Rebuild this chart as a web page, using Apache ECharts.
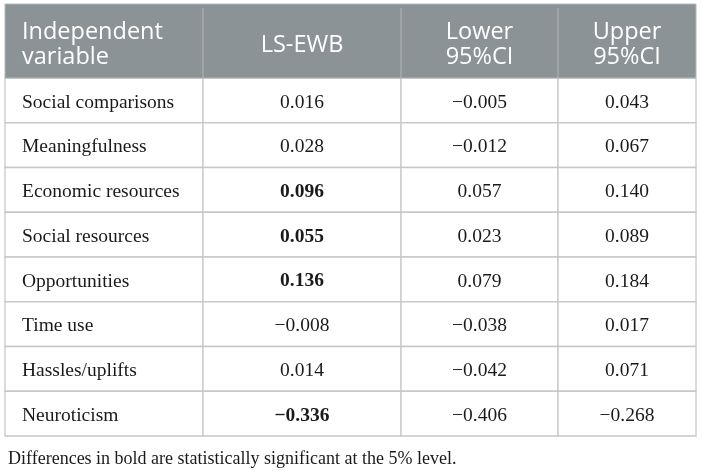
<!DOCTYPE html>
<html>
<head>
<meta charset="utf-8">
<script src="https://cdn.jsdelivr.net/npm/echarts@6/dist/echarts.min.js"></script>
<style>
  html, body { margin: 0; padding: 0; background: #fff; }
  #main { width: 702px; height: 471px; }
</style>
</head>
<body>
<div id="main"></div>
<script>
var chartDom = document.getElementById('main');
var myChart = echarts.init(chartDom);
var option;

// table content
const variables = ['Social comparisons', 'Meaningfulness', 'Economic resources', 'Social resources',
  'Opportunities', 'Time use', 'Hassles/uplifts', 'Neuroticism'];
const lsEwb = [0.016, 0.028, 0.096, 0.055, 0.136, -0.008, 0.014, -0.336];
const lower95 = [-0.005, -0.012, 0.057, 0.023, 0.079, -0.038, -0.042, -0.406];
const upper95 = [0.043, 0.067, 0.140, 0.089, 0.184, 0.017, 0.071, -0.268];
const significant = [false, false, true, true, true, false, false, true];
const headers = ['Independent\nvariable', 'LS-EWB', 'Lower\n95%CI', 'Upper\n95%CI'];
const note = 'Differences in bold are statistically significant at the 5% level.';

// column edges along the x axis (layout)
const colEdges = [0, 198, 396, 553, 691];
const headerHeight = 74;

const serif = '"Liberation Serif", "DejaVu Serif", serif';
const sans = '"Open Sans", "Noto Sans", sans-serif';

function fmt(v) {
  return (v < 0 ? '\u2212' : '') + Math.abs(v).toFixed(3);
}

function rowItem(params, api) {
  const r = api.value(0);
  const c = api.coord([0, r]);
  const band = api.size([0, 1])[1];
  const top = c[1] - band / 2;
  const vals = [variables[r], fmt(lsEwb[r]), fmt(lower95[r]), fmt(upper95[r])];
  const children = [];
  for (let j = 0; j < 4; j++) {
    const x0 = api.coord([colEdges[j], r])[0];
    const x1 = api.coord([colEdges[j + 1], r])[0];
    children.push({
      type: 'rect',
      shape: { x: x0, y: top, width: x1 - x0, height: band },
      style: { fill: '#fff', stroke: '#c8c8c8', lineWidth: 1.3 }
    });
    children.push({
      type: 'text',
      style: {
        x: j === 0 ? x0 + 17 : (x0 + x1) / 2,
        y: c[1] + 2,
        text: vals[j],
        align: j === 0 ? 'left' : 'center',
        verticalAlign: 'middle',
        fill: '#1a1a1a',
        font: (j === 1 && significant[r] ? 'bold ' : '') + '19.5px ' + serif
      }
    });
  }
  return { type: 'group', children: children };
}

function headerItem(params, api) {
  const c = api.coord([0, 0]);
  const band = api.size([0, 1])[1];
  const bottom = c[1] - band / 2;
  const top = bottom - headerHeight;
  const left = api.coord([colEdges[0], 0])[0];
  const right = api.coord([colEdges[4], 0])[0];
  const children = [{
    type: 'rect',
    shape: { x: left, y: top, width: right - left, height: headerHeight },
    style: { fill: '#8b9396', stroke: '#b3b8ba', lineWidth: 1 }
  }];
  for (let j = 0; j < 4; j++) {
    const x0 = api.coord([colEdges[j], 0])[0];
    const x1 = api.coord([colEdges[j + 1], 0])[0];
    if (j > 0) {
      children.push({
        type: 'line',
        shape: { x1: x0, y1: top + 4, x2: x0, y2: bottom },
        style: { stroke: '#a9aeb1', lineWidth: 1.3 }
      });
    }
    children.push({
      type: 'text',
      style: {
        x: j === 0 ? x0 + 17 : (x0 + x1) / 2,
        y: top + headerHeight / 2 + 4,
        text: headers[j],
        align: j === 0 ? 'left' : 'center',
        verticalAlign: 'middle',
        fill: '#fff',
        lineHeight: 25,
        font: '23.5px ' + sans
      }
    });
  }
  return { type: 'group', children: children };
}

option = {
  animation: false,
  title: {
    text: note,
    left: 3,
    top: 445,
    textStyle: { fontFamily: serif, fontSize: 18, fontWeight: 'normal', color: '#1a1a1a' }
  },
  grid: { left: 5, right: 6, top: 78, bottom: 35 },
  xAxis: { type: 'value', min: colEdges[0], max: colEdges[4], show: false },
  yAxis: { type: 'category', data: variables, inverse: true, show: false },
  series: [
    {
      type: 'custom',
      renderItem: rowItem,
      data: variables.map(function (v, i) { return [i]; })
    },
    {
      type: 'custom',
      renderItem: headerItem,
      data: [[0]]
    }
  ]
};

option && myChart.setOption(option);
</script>
</body>
</html>
